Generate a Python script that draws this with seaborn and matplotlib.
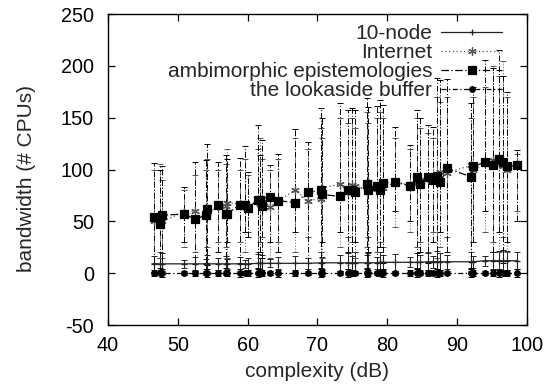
import numpy as np
import matplotlib
matplotlib.use('Agg')
import matplotlib.pyplot as plt
import seaborn as sns

# --- data ---
x = [46.6, 47.4, 47.7, 50.9, 52.5, 54.0, 54.2, 55.8, 56.9, 57.0, 58.9, 59.6,
     60.1, 61.5, 61.8, 62.0, 63.2, 64.4, 66.8, 68.7, 70.5, 70.6, 73.2, 74.4,
     75.0, 75.4, 77.1, 77.2, 78.5, 79.0, 79.4, 81.1, 83.3, 84.3, 84.7, 85.8,
     86.6, 87.1, 87.6, 88.6, 92.0, 92.3, 94.0, 95.2, 96.0, 96.6, 97.2, 98.6]

node_y = [9, 9, 9, 9, 9, 9, 9, 9, 9, 9, 9, 9, 9, 9.5, 9.5, 9.5, 9.5, 9.5,
          9.5, 9.5, 10, 10, 10, 10, 10, 10, 10, 10, 10, 10.5, 10.5, 10.5, 10.5,
          10.5, 10.5, 11, 11, 11, 11, 11, 11, 11, 12, 12, 12, 12, 12, 12]
node_err = [8, 6, 10, 4, 7, 5, 9, 6, 8, 5, 7, 4, 6, 9, 5, 8, 4, 6, 7, 5, 10, 6,
            8, 9, 7, 10, 8, 9, 6, 10, 7, 8, 5, 9, 7, 8, 6, 10, 8, 7, 9, 6, 5, 8,
            9, 10, 9, 8]

inet_y = [50, 55, 50, 59, 60, 54, 58, 64, 65, 68, 67, 65, 65, 70, 67, 72, 64,
          70, 80, 70, 72, 82, 86, 78, 85, 84, 82, 88, 81, 86, 82, 88, 85, 87,
          90, 91, 92, 96, 98, 97, 104, 100, 105, 109, 106, 103, 100, 105]
inet_hi = [100, 105, 90, 80, 95, 100, 110, 100, 105, 120, 100, 110, 95, 120,
           130, 110, 100, 110, 130, 120, 140, 130, 150, 145, 150, 140, 155, 145,
           150, 155, 150, 130, 120, 150, 140, 135, 130, 170, 165, 170, 150, 170,
           180, 200, 190, 205, 170, 115]
inet_lo = [10, 20, 15, 25, 20, 10, 25, 30, 25, 15, 30, 20, 40, 20, 30, 35, 15,
           30, 20, 35, 20, 15, 25, 35, 30, 15, 25, 35, 20, 30, 25, 45, 40, 25,
           30, 20, 40, 15, 25, 35, 20, 30, 40, 30, 20, 35, 20, 60]

ambi_y = [54, 47, 56, 57, 52, 56, 62, 66, 57, 57, 66, 66, 63, 71, 71, 65, 73,
          70, 68, 78, 80, 76, 74, 80, 80, 78, 86, 80, 84, 80, 87, 88, 84, 93,
          86, 93, 90, 94, 88, 101, 93, 103, 107, 104, 110, 107, 103, 104]
ambi_hi = [106, 100, 103, 83, 107, 109, 125, 107, 114, 110, 111, 123, 98, 143,
           114, 128, 104, 115, 139, 127, 159, 150, 164, 157, 159, 157, 169, 160,
           161, 167, 162, 141, 124, 157, 150, 143, 141, 188, 186, 187, 164, 180,
           206, 198, 215, 190, 175, 119]
ambi_lo = [0, 5, 2, 30, 2, 0, 8, 20, 5, 30, 10, 40, 35, 5, 20, 15, 30, 20, 40,
           10, 5, 30, 40, 20, 10, 30, 5, 20, 0, 25, 10, 60, 50, 5, 20, 10, 30, 0,
           40, 20, 5, 30, 60, 20, 40, 10, 30, 50]

look_y = [0] * len(x)
look_err = [3, 2, 4, 2, 3, 2, 4, 3, 2, 3, 4, 2, 3, 4, 2, 3, 2, 4, 3, 2, 4, 3,
            2, 4, 3, 2, 4, 3, 2, 3, 4, 2, 3, 4, 2, 3, 2, 4, 3, 2, 4, 3, 2, 3, 4,
            2, 3, 4]

labels = ['10-node', 'Internet', 'ambimorphic epistemologies', 'the lookaside buffer']

sns.set_style('ticks')
plt.rcParams['font.family'] = ['Liberation Sans', 'DejaVu Sans']
plt.rcParams['axes.unicode_minus'] = False
fs = 15
tfs = 14.3

fig = plt.figure(figsize=(5.58, 3.89), dpi=100)
ax = fig.add_axes([0.1935, 0.1645, 0.7509, 0.7995])

x = np.array(x)

def draw(y, lo, hi, ls, marker, ms, label, color='black'):
    y = np.array(y, dtype=float)
    yerr = [y - np.array(lo, dtype=float), np.array(hi, dtype=float) - y]
    eb = ax.errorbar(x, y, yerr=yerr, fmt='none', ecolor=color,
                     elinewidth=0.7, capsize=2.5, capthick=0.7, zorder=2)
    eb[2][0].set_linestyle(ls)
    sns.lineplot(x=x, y=y, ax=ax, color=color, linestyle=ls, linewidth=0.9,
                 marker=marker, markersize=ms, markeredgecolor=color,
                 markerfacecolor=color, markeredgewidth=0.9,
                 label=label, sort=False, estimator=None, zorder=3)

node_a = np.array(node_y, dtype=float)
draw(node_y, node_a - np.array(node_err), node_a + np.array(node_err),
     '-', '+', 4.5, labels[0], color='#222222')
draw(inet_y, inet_lo, inet_hi, (0, (1, 2)), (6, 2, 0), 6, labels[1], color='#555555')
draw(ambi_y, ambi_lo, ambi_hi, (0, (6, 2, 1, 2)), 's', 5.5, labels[2])
look_a = np.array(look_y, dtype=float)
draw(look_y, look_a - np.array(look_err), look_a + np.array(look_err),
     (0, (4, 2, 1, 2)), 'o', 4, labels[3])

ax.set_xlim(40, 100)
ax.set_ylim(-50, 250)
ax.set_xticks(range(40, 101, 10))
ax.set_yticks(range(-50, 251, 50))
ax.tick_params(direction='in', length=5, width=0.9, top=True, right=True,
               labelsize=tfs, colors='black')
ax.tick_params(axis='y', pad=10)
ax.tick_params(axis='x', pad=8)
for s in ax.spines.values():
    s.set_visible(True)
    s.set_linewidth(1.0)
    s.set_color('black')
ax.grid(False)
ax.set_xlabel('complexity (dB)', fontsize=fs)
ax.set_ylabel('bandwidth (# CPUs)', fontsize=fs)
ax.xaxis.set_label_coords(0.5, -0.12)
ax.yaxis.set_label_coords(-0.172, 0.47)

leg = ax.legend(loc='upper right', bbox_to_anchor=(0.94, 0.967), frameon=False,
                markerfirst=False, fontsize=fs, handlelength=2.9,
                handletextpad=0.45, labelspacing=0.0, borderpad=0,
                borderaxespad=0)

fig.savefig('out.png', dpi=100)
